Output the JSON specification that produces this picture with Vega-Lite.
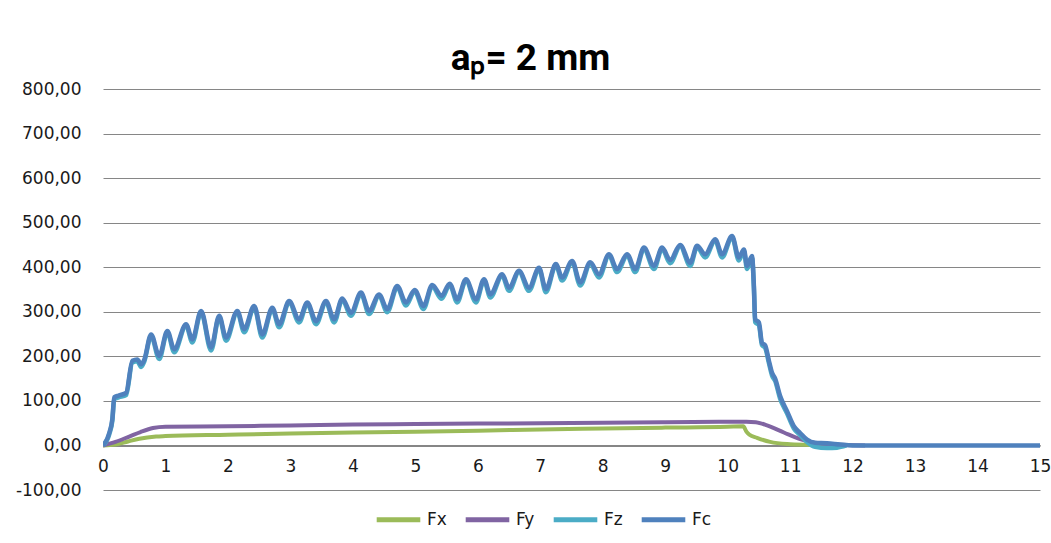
{
  "$schema": "https://vega.github.io/schema/vega-lite/v6.json",
  "width": 937,
  "height": 401,
  "autosize": {"type": "none"},
  "padding": {"left": 103, "top": 89, "right": 11, "bottom": 53},
  "background": "white",
  "config": {
    "view": {"stroke": null},
    "locale": {"number": {"decimal": ",", "thousands": ".", "grouping": [3], "currency": ["", " €"], "minus": "-"}},
    "font": "DejaVu Sans"
  },
  "title": {
    "text": "aₚ= 2 mm",
    "frame": "group",
    "anchor": "middle",
    "dx": -41,
    "offset": -27,
    "baseline": "alphabetic",
    "font": "Roboto",
    "fontSize": 37,
    "fontWeight": "bold",
    "color": "#000000"
  },
  "datasets": {
    "d": [
      {"s": "Fx", "t": 0, "F": 0}, {"s": "Fx", "t": 0.2, "F": 2}, {"s": "Fx", "t": 0.4, "F": 9}, {"s": "Fx", "t": 0.58, "F": 15}, {"s": "Fx", "t": 0.85, "F": 20}, {"s": "Fx", "t": 1, "F": 21}, {"s": "Fx", "t": 2, "F": 24}, {"s": "Fx", "t": 3, "F": 27}, {"s": "Fx", "t": 4, "F": 29}, {"s": "Fx", "t": 5, "F": 31}, {"s": "Fx", "t": 6, "F": 33}, {"s": "Fx", "t": 7, "F": 36}, {"s": "Fx", "t": 8, "F": 38}, {"s": "Fx", "t": 9, "F": 40}, {"s": "Fx", "t": 10, "F": 42}, {"s": "Fx", "t": 10.25, "F": 43}, {"s": "Fx", "t": 10.3, "F": 31}, {"s": "Fx", "t": 10.35, "F": 24}, {"s": "Fx", "t": 10.47, "F": 17}, {"s": "Fx", "t": 10.68, "F": 8}, {"s": "Fx", "t": 10.95, "F": 3}, {"s": "Fx", "t": 11.32, "F": 1}, {"s": "Fx", "t": 11.6, "F": 0},
      {"s": "Fy", "t": 0, "F": 0}, {"s": "Fy", "t": 0.2, "F": 8}, {"s": "Fy", "t": 0.42, "F": 20}, {"s": "Fy", "t": 0.6, "F": 30}, {"s": "Fy", "t": 0.8, "F": 39}, {"s": "Fy", "t": 1, "F": 42}, {"s": "Fy", "t": 2, "F": 43}, {"s": "Fy", "t": 3, "F": 45}, {"s": "Fy", "t": 4, "F": 47}, {"s": "Fy", "t": 5, "F": 48}, {"s": "Fy", "t": 6, "F": 49}, {"s": "Fy", "t": 7, "F": 50}, {"s": "Fy", "t": 8, "F": 51}, {"s": "Fy", "t": 9, "F": 52}, {"s": "Fy", "t": 10, "F": 53}, {"s": "Fy", "t": 10.3, "F": 53}, {"s": "Fy", "t": 10.45, "F": 52}, {"s": "Fy", "t": 10.63, "F": 45}, {"s": "Fy", "t": 10.9, "F": 29}, {"s": "Fy", "t": 11.16, "F": 14}, {"s": "Fy", "t": 11.38, "F": 6}, {"s": "Fy", "t": 11.7, "F": 2}, {"s": "Fy", "t": 12.2, "F": 0},
      {"s": "Fz", "t": 0, "F": 0}, {"s": "Fz", "t": 0.1, "F": 25}, {"s": "Fz", "t": 0.15, "F": 56}, {"s": "Fz", "t": 0.18, "F": 104}, {"s": "Fz", "t": 0.25, "F": 108}, {"s": "Fz", "t": 0.37, "F": 113}, {"s": "Fz", "t": 0.47, "F": 186}, {"s": "Fz", "t": 0.55, "F": 189}, {"s": "Fz", "t": 0.61, "F": 176}, {"s": "Fz", "t": 0.66, "F": 188}, {"s": "Fz", "t": 0.77, "F": 246}, {"s": "Fz", "t": 0.9, "F": 194}, {"s": "Fz", "t": 1.03, "F": 254}, {"s": "Fz", "t": 1.14, "F": 209}, {"s": "Fz", "t": 1.33, "F": 269}, {"s": "Fz", "t": 1.43, "F": 231}, {"s": "Fz", "t": 1.57, "F": 299}, {"s": "Fz", "t": 1.73, "F": 213}, {"s": "Fz", "t": 1.86, "F": 288}, {"s": "Fz", "t": 1.97, "F": 235}, {"s": "Fz", "t": 2.15, "F": 299}, {"s": "Fz", "t": 2.26, "F": 254}, {"s": "Fz", "t": 2.42, "F": 310}, {"s": "Fz", "t": 2.55, "F": 242}, {"s": "Fz", "t": 2.71, "F": 306}, {"s": "Fz", "t": 2.82, "F": 265}, {"s": "Fz", "t": 2.98, "F": 321}, {"s": "Fz", "t": 3.14, "F": 276}, {"s": "Fz", "t": 3.27, "F": 318}, {"s": "Fz", "t": 3.41, "F": 272}, {"s": "Fz", "t": 3.57, "F": 321}, {"s": "Fz", "t": 3.7, "F": 276}, {"s": "Fz", "t": 3.83, "F": 327}, {"s": "Fz", "t": 3.97, "F": 291}, {"s": "Fz", "t": 4.13, "F": 340}, {"s": "Fz", "t": 4.26, "F": 295}, {"s": "Fz", "t": 4.42, "F": 336}, {"s": "Fz", "t": 4.55, "F": 299}, {"s": "Fz", "t": 4.71, "F": 355}, {"s": "Fz", "t": 4.85, "F": 314}, {"s": "Fz", "t": 4.99, "F": 346}, {"s": "Fz", "t": 5.13, "F": 306}, {"s": "Fz", "t": 5.27, "F": 357}, {"s": "Fz", "t": 5.42, "F": 329}, {"s": "Fz", "t": 5.55, "F": 360}, {"s": "Fz", "t": 5.67, "F": 321}, {"s": "Fz", "t": 5.81, "F": 370}, {"s": "Fz", "t": 5.97, "F": 321}, {"s": "Fz", "t": 6.1, "F": 370}, {"s": "Fz", "t": 6.2, "F": 332}, {"s": "Fz", "t": 6.39, "F": 381}, {"s": "Fz", "t": 6.5, "F": 347}, {"s": "Fz", "t": 6.66, "F": 389}, {"s": "Fz", "t": 6.82, "F": 347}, {"s": "Fz", "t": 6.98, "F": 396}, {"s": "Fz", "t": 7.09, "F": 344}, {"s": "Fz", "t": 7.25, "F": 404}, {"s": "Fz", "t": 7.35, "F": 370}, {"s": "Fz", "t": 7.51, "F": 411}, {"s": "Fz", "t": 7.64, "F": 359}, {"s": "Fz", "t": 7.8, "F": 408}, {"s": "Fz", "t": 7.94, "F": 377}, {"s": "Fz", "t": 8.1, "F": 426}, {"s": "Fz", "t": 8.23, "F": 389}, {"s": "Fz", "t": 8.39, "F": 426}, {"s": "Fz", "t": 8.52, "F": 389}, {"s": "Fz", "t": 8.66, "F": 441}, {"s": "Fz", "t": 8.82, "F": 396}, {"s": "Fz", "t": 8.95, "F": 441}, {"s": "Fz", "t": 9.08, "F": 409}, {"s": "Fz", "t": 9.24, "F": 447}, {"s": "Fz", "t": 9.4, "F": 403}, {"s": "Fz", "t": 9.51, "F": 445}, {"s": "Fz", "t": 9.64, "F": 422}, {"s": "Fz", "t": 9.8, "F": 460}, {"s": "Fz", "t": 9.91, "F": 422}, {"s": "Fz", "t": 10.07, "F": 467}, {"s": "Fz", "t": 10.18, "F": 415}, {"s": "Fz", "t": 10.26, "F": 437}, {"s": "Fz", "t": 10.31, "F": 396}, {"s": "Fz", "t": 10.39, "F": 420}, {"s": "Fz", "t": 10.42, "F": 352}, {"s": "Fz", "t": 10.44, "F": 277}, {"s": "Fz", "t": 10.5, "F": 270}, {"s": "Fz", "t": 10.55, "F": 225}, {"s": "Fz", "t": 10.6, "F": 219}, {"s": "Fz", "t": 10.66, "F": 185}, {"s": "Fz", "t": 10.71, "F": 157}, {"s": "Fz", "t": 10.76, "F": 145}, {"s": "Fz", "t": 10.84, "F": 105}, {"s": "Fz", "t": 10.95, "F": 72}, {"s": "Fz", "t": 11.06, "F": 38}, {"s": "Fz", "t": 11.16, "F": 23}, {"s": "Fz", "t": 11.27, "F": 8}, {"s": "Fz", "t": 11.4, "F": -3}, {"s": "Fz", "t": 11.59, "F": -6}, {"s": "Fz", "t": 11.75, "F": -5}, {"s": "Fz", "t": 11.9, "F": 0},
      {"s": "Fc", "t": 0, "F": 0}, {"s": "Fc", "t": 0.1, "F": 28}, {"s": "Fc", "t": 0.15, "F": 60}, {"s": "Fc", "t": 0.18, "F": 108}, {"s": "Fc", "t": 0.25, "F": 112}, {"s": "Fc", "t": 0.37, "F": 118}, {"s": "Fc", "t": 0.47, "F": 190}, {"s": "Fc", "t": 0.55, "F": 193}, {"s": "Fc", "t": 0.61, "F": 182}, {"s": "Fc", "t": 0.66, "F": 192}, {"s": "Fc", "t": 0.77, "F": 249}, {"s": "Fc", "t": 0.9, "F": 201}, {"s": "Fc", "t": 1.03, "F": 257}, {"s": "Fc", "t": 1.14, "F": 216}, {"s": "Fc", "t": 1.33, "F": 272}, {"s": "Fc", "t": 1.43, "F": 238}, {"s": "Fc", "t": 1.57, "F": 302}, {"s": "Fc", "t": 1.73, "F": 220}, {"s": "Fc", "t": 1.86, "F": 291}, {"s": "Fc", "t": 1.97, "F": 242}, {"s": "Fc", "t": 2.15, "F": 302}, {"s": "Fc", "t": 2.26, "F": 261}, {"s": "Fc", "t": 2.42, "F": 313}, {"s": "Fc", "t": 2.55, "F": 249}, {"s": "Fc", "t": 2.71, "F": 309}, {"s": "Fc", "t": 2.82, "F": 272}, {"s": "Fc", "t": 2.98, "F": 324}, {"s": "Fc", "t": 3.14, "F": 283}, {"s": "Fc", "t": 3.27, "F": 321}, {"s": "Fc", "t": 3.41, "F": 279}, {"s": "Fc", "t": 3.57, "F": 324}, {"s": "Fc", "t": 3.7, "F": 283}, {"s": "Fc", "t": 3.83, "F": 330}, {"s": "Fc", "t": 3.97, "F": 298}, {"s": "Fc", "t": 4.13, "F": 343}, {"s": "Fc", "t": 4.26, "F": 302}, {"s": "Fc", "t": 4.42, "F": 339}, {"s": "Fc", "t": 4.55, "F": 306}, {"s": "Fc", "t": 4.71, "F": 358}, {"s": "Fc", "t": 4.85, "F": 321}, {"s": "Fc", "t": 4.99, "F": 349}, {"s": "Fc", "t": 5.13, "F": 313}, {"s": "Fc", "t": 5.27, "F": 360}, {"s": "Fc", "t": 5.42, "F": 336}, {"s": "Fc", "t": 5.55, "F": 363}, {"s": "Fc", "t": 5.67, "F": 328}, {"s": "Fc", "t": 5.81, "F": 373}, {"s": "Fc", "t": 5.97, "F": 328}, {"s": "Fc", "t": 6.1, "F": 373}, {"s": "Fc", "t": 6.2, "F": 339}, {"s": "Fc", "t": 6.39, "F": 384}, {"s": "Fc", "t": 6.5, "F": 354}, {"s": "Fc", "t": 6.66, "F": 392}, {"s": "Fc", "t": 6.82, "F": 354}, {"s": "Fc", "t": 6.98, "F": 399}, {"s": "Fc", "t": 7.09, "F": 351}, {"s": "Fc", "t": 7.25, "F": 407}, {"s": "Fc", "t": 7.35, "F": 377}, {"s": "Fc", "t": 7.51, "F": 414}, {"s": "Fc", "t": 7.64, "F": 366}, {"s": "Fc", "t": 7.8, "F": 411}, {"s": "Fc", "t": 7.94, "F": 384}, {"s": "Fc", "t": 8.1, "F": 429}, {"s": "Fc", "t": 8.23, "F": 396}, {"s": "Fc", "t": 8.39, "F": 429}, {"s": "Fc", "t": 8.52, "F": 396}, {"s": "Fc", "t": 8.66, "F": 444}, {"s": "Fc", "t": 8.82, "F": 403}, {"s": "Fc", "t": 8.95, "F": 444}, {"s": "Fc", "t": 9.08, "F": 416}, {"s": "Fc", "t": 9.24, "F": 450}, {"s": "Fc", "t": 9.4, "F": 410}, {"s": "Fc", "t": 9.51, "F": 448}, {"s": "Fc", "t": 9.64, "F": 429}, {"s": "Fc", "t": 9.8, "F": 463}, {"s": "Fc", "t": 9.91, "F": 429}, {"s": "Fc", "t": 10.07, "F": 470}, {"s": "Fc", "t": 10.18, "F": 422}, {"s": "Fc", "t": 10.26, "F": 440}, {"s": "Fc", "t": 10.31, "F": 403}, {"s": "Fc", "t": 10.39, "F": 425}, {"s": "Fc", "t": 10.42, "F": 358}, {"s": "Fc", "t": 10.44, "F": 283}, {"s": "Fc", "t": 10.5, "F": 276}, {"s": "Fc", "t": 10.55, "F": 230}, {"s": "Fc", "t": 10.6, "F": 225}, {"s": "Fc", "t": 10.66, "F": 190}, {"s": "Fc", "t": 10.71, "F": 163}, {"s": "Fc", "t": 10.76, "F": 150}, {"s": "Fc", "t": 10.84, "F": 111}, {"s": "Fc", "t": 10.95, "F": 77}, {"s": "Fc", "t": 11.06, "F": 43}, {"s": "Fc", "t": 11.16, "F": 28}, {"s": "Fc", "t": 11.27, "F": 13}, {"s": "Fc", "t": 11.4, "F": 6}, {"s": "Fc", "t": 11.59, "F": 5}, {"s": "Fc", "t": 11.8, "F": 2}, {"s": "Fc", "t": 12, "F": 0}, {"s": "Fc", "t": 15, "F": 0}
    ]
  },
  "data": {"name": "d"},
  "encoding": {
    "x": {
      "field": "t", "type": "quantitative",
      "scale": {"domain": [0, 15], "nice": false, "zero": false},
      "axis": {
        "title": null, "values": [0,1,2,3,4,5,6,7,8,9,10,11,12,13,14,15],
        "grid": false, "ticks": false, "domain": true, "domainColor": "#868686", "domainWidth": 2,
        "offset": -44.5, "labelPadding": 13, "labelFontSize": 17, "labelColor": "#1a1a1a",
        "labelFont": "DejaVu Sans", "labelFlush": false
      }
    },
    "y": {
      "field": "F", "type": "quantitative",
      "scale": {"domain": [-100, 800], "nice": false, "zero": false},
      "axis": {
        "title": null, "values": [-100,0,100,200,300,400,500,600,700,800], "format": ".2f",
        "grid": true, "gridColor": "#868686", "gridWidth": 1, "ticks": false, "domain": false,
        "labelPadding": 22, "labelFontSize": 17, "labelColor": "#1a1a1a", "labelFont": "DejaVu Sans"
      }
    },
    "color": {
      "field": "s", "type": "nominal",
      "scale": {"domain": ["Fx", "Fy", "Fz", "Fc"], "range": ["#9BBB59", "#8064A2", "#4BACC6", "#4F81BD"]},
      "legend": {
        "title": null, "orient": "none", "legendX": 271, "legendY": 406, "direction": "horizontal",
        "symbolType": "stroke", "symbolSize": 1900, "symbolStrokeWidth": 5,
        "labelFontSize": 17, "labelFont": "DejaVu Sans", "labelColor": "#1a1a1a",
        "labelOffset": 4, "columnPadding": 8, "padding": 0
      }
    }
  },
  "layer": [
    {"transform": [{"filter": "datum.s === 'Fx'"}], "mark": {"type": "line", "strokeWidth": 4, "interpolate": "monotone", "strokeJoin": "round", "clip": true}},
    {"transform": [{"filter": "datum.s === 'Fy'"}], "mark": {"type": "line", "strokeWidth": 4, "interpolate": "monotone", "strokeJoin": "round", "clip": true}},
    {"transform": [{"filter": "datum.s === 'Fz'"}], "mark": {"type": "line", "strokeWidth": 4.5, "interpolate": "monotone", "strokeJoin": "round", "clip": true}},
    {"transform": [{"filter": "datum.s === 'Fc'"}], "mark": {"type": "line", "strokeWidth": 4.5, "interpolate": "monotone", "strokeJoin": "round", "clip": true}}
  ]
}
